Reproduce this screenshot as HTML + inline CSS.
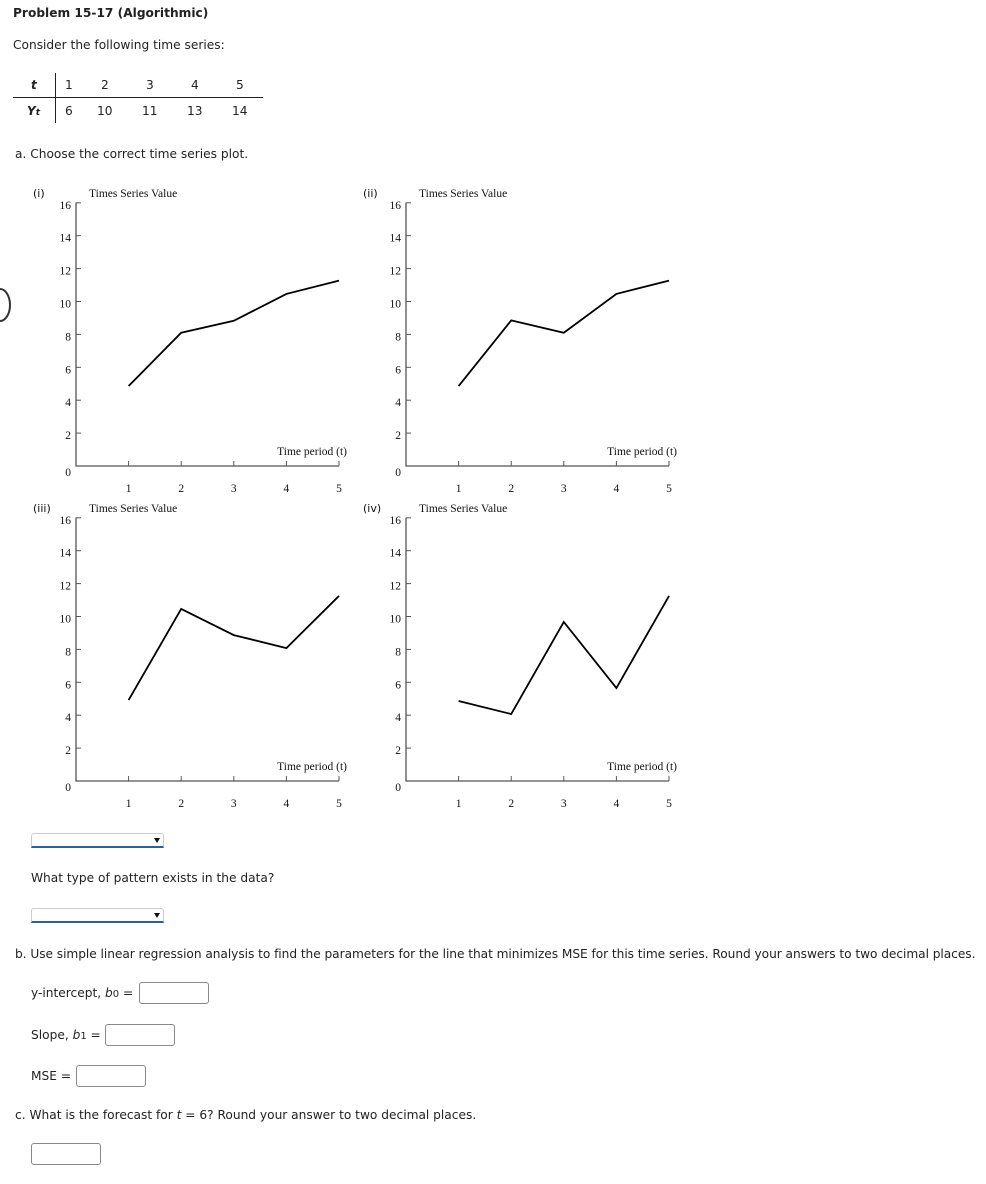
<!DOCTYPE html>
<html><head><meta charset="utf-8">
<style>
body{margin:0;width:986px;height:1184px;position:relative;background:#fff;font-family:"DejaVu Sans",Verdana,sans-serif;font-size:12.2px;color:#222;overflow:hidden}
.t{position:absolute;white-space:nowrap}
.sel{position:absolute;width:131px;height:12px;border:1px solid #ccc;border-bottom:2px solid #2f5f96;border-radius:3px 3px 0 0;background:#fff}
.sel:after{content:"";position:absolute;right:3px;top:4px;border-left:3px solid transparent;border-right:3px solid transparent;border-top:5px solid #111}
.inp{position:absolute;width:68px;height:20px;border:1px solid #888;border-radius:3px;background:#fff}
svg text{font-family:"Liberation Serif",serif;font-size:11.5px;fill:#111}
</style></head><body>
<div class="t" style="left:13px;top:6px;font-weight:bold">Problem 15-17 (Algorithmic)</div>
<div class="t" style="left:13px;top:38px">Consider the following time series:</div>
<div style="position:absolute;left:0;top:0">
<div style="position:absolute;left:13px;top:97px;width:250px;border-top:1px solid #222"></div>
<div style="position:absolute;left:55px;top:73px;height:50px;border-left:1px solid #222"></div>
<div class="t" style="left:31px;top:78px;font-weight:bold;font-style:italic;font-size:12px">t</div>
<div class="t" style="left:27px;top:104px;font-weight:bold;font-style:italic;font-size:12px">Y<span style="font-size:9px">t</span></div>
<div class="t" style="left:65px;top:78px">1</div><div class="t" style="left:101px;top:78px">2</div><div class="t" style="left:146px;top:78px">3</div><div class="t" style="left:191px;top:78px">4</div><div class="t" style="left:236px;top:78px">5</div>
<div class="t" style="left:65px;top:104px">6</div><div class="t" style="left:97px;top:104px">10</div><div class="t" style="left:142px;top:104px">11</div><div class="t" style="left:187px;top:104px">13</div><div class="t" style="left:232px;top:104px">14</div>
</div>
<div class="t" style="left:15px;top:147px">a. Choose the correct time series plot.</div>
<svg id="charts" width="986" height="830" style="position:absolute;left:0;top:0">
<path d="M0,289 A10,16 0 0 1 0,321" fill="none" stroke="#333" stroke-width="2"/>
</svg>
<div class="sel" style="left:31px;top:833px"></div>
<div class="t" style="left:31px;top:871px">What type of pattern exists in the data?</div>
<div class="sel" style="left:31px;top:908px"></div>
<div class="t" style="left:15px;top:947px;letter-spacing:-0.05px">b. Use simple linear regression analysis to find the parameters for the line that minimizes MSE for this time series. Round your answers to two decimal places.</div>
<div class="t" style="left:31px;top:986px">y-intercept, <i>b</i><span style="font-size:10px">0</span> =</div>
<div class="inp" style="left:139px;top:982px"></div>
<div class="t" style="left:31px;top:1028px">Slope, <i>b</i><span style="font-size:10px">1</span> =</div>
<div class="inp" style="left:105px;top:1024px"></div>
<div class="t" style="left:31px;top:1069px">MSE =</div>
<div class="inp" style="left:76px;top:1065px"></div>
<div class="t" style="left:15px;top:1108px">c. What is the forecast for <i>t</i> = 6? Round your answer to two decimal places.</div>
<div class="inp" style="left:31px;top:1143px"></div>
<script>
const periods=[1,2,3,4,5];
const yTicks=[0,2,4,6,8,10,12,14,16];
const seriesI=[4.86,8.1,8.83,10.46,11.27];
const seriesII=[4.86,8.85,8.1,10.46,11.27];
const seriesIII=[4.92,10.46,8.87,8.08,11.25];
const seriesIV=[4.86,4.07,9.67,5.65,11.25];
const panelLabels=["(i)","(ii)","(iii)","(iv)"];
const NS="http://www.w3.org/2000/svg";
const svg=document.getElementById('charts');
function mk(tag,attrs,parent){const e=document.createElementNS(NS,tag);for(const k in attrs)e.setAttribute(k,attrs[k]);(parent||svg).appendChild(e);return e;}
function drawPanel(series,label,ox,oy,name){
  const g=mk('g',{});
  
  
  const x0=ox+76, y0=oy+466, xs=v=>x0+(v)*52.6, ys=v=>y0-v*16.45;
  mk('path',{d:`M${x0},${ys(16)}V${y0}H${xs(5)}`,fill:'none',stroke:'#555','stroke-width':1.3},g);
  yTicks.forEach(v=>{
    if(v>0) mk('line',{x1:x0,x2:x0+5,y1:ys(v),y2:ys(v),stroke:'#555','stroke-width':1},g);
    const t=mk('text',{x:x0-5,y:ys(v)+(v==0?10:6),'text-anchor':'end'},g);t.textContent=v;
  });
  periods.forEach(p=>{
    mk('line',{x1:xs(p),x2:xs(p),y1:y0,y2:y0-5,stroke:'#555','stroke-width':1},g);
    const t=mk('text',{x:xs(p),y:y0+26,'text-anchor':'middle'},g);t.textContent=p;
  });
  const pts=periods.map((p,i)=>xs(p)+','+ys(series[i])).join(' ');
  const pl=mk('polyline',{points:pts,fill:'none',stroke:'#000','stroke-width':1.8},g);
  
  
  let t=mk('text',{x:ox+89,y:oy+197},g);t.textContent='Times Series Value';
  t=mk('text',{x:ox+347,y:oy+455,'text-anchor':'end'},g);t.textContent='Time period (t)';
  t=mk('text',{x:ox+33,y:oy+197,style:'font-family:DejaVu Sans,sans-serif;font-size:11px'},g);t.textContent=label;
}
drawPanel(seriesI,panelLabels[0],0,0,'plot-i');
drawPanel(seriesII,panelLabels[1],330,0,'plot-ii');
drawPanel(seriesIII,panelLabels[2],0,315,'plot-iii');
drawPanel(seriesIV,panelLabels[3],330,315,'plot-iv');
</script>
</body></html>
